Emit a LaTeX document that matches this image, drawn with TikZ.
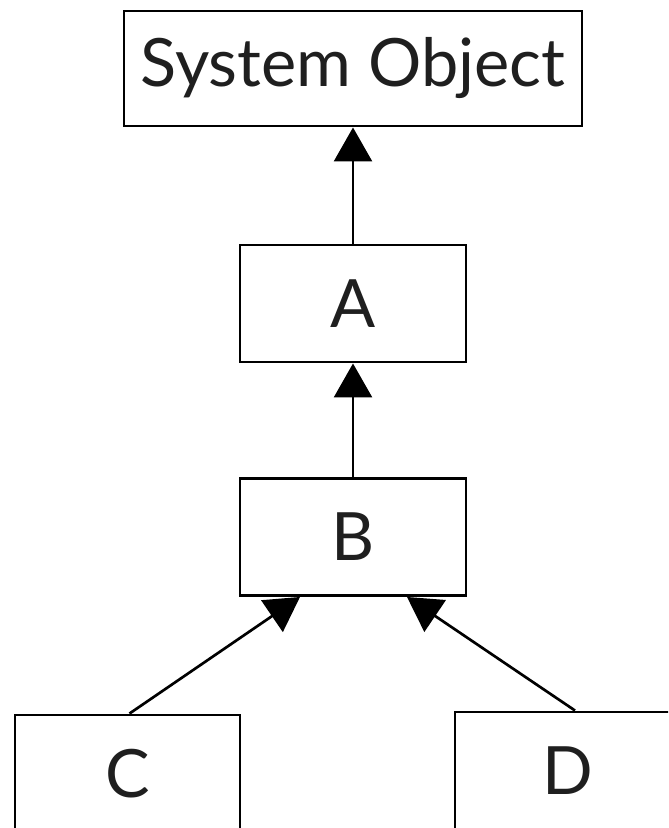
\documentclass[tikz,border=0pt]{standalone}
\usepackage{fontspec}
\setmainfont{Lato}
\usetikzlibrary{arrows.meta}
\begin{document}
\begin{tikzpicture}[x=0.75pt,y=-0.75pt,
  cls/.style={draw=black,line width=2.2pt,fill=white,inner sep=0pt,
    minimum width={226*0.75pt},minimum height={117*0.75pt},
    font=\fontsize{50}{60}\selectfont,text=black!88},
  inherit/.style={line width=2pt,-{Triangle[length=25.5pt,width=28.5pt]}}]
\useasboundingbox (0,0) rectangle (668,828);
\clip (0,0) rectangle (668,828);
% class boxes
\node[cls,minimum width={458*0.75pt},minimum height={115*0.75pt}] (sys) at (353,68.5) {System Object};
\node[cls] (A) at (353,303.5) {A};
\node[cls] (B) at (353,537) {B};
\node[cls,minimum width={225*0.75pt}] (C) at (127.5,773.5) {C};
\node[cls] (D) at (568,770.5) {D};
% inheritance arrows
\draw[inherit] (A.north) -- (sys.south);
\draw[inherit] (B.north) -- (A.south);
\draw[inherit] ([xshift={2*0.75pt}]C.north) -- ([xshift={-53*0.75pt}]B.south);
\draw[inherit] ([xshift={7*0.75pt}]D.north) -- ([xshift={54*0.75pt}]B.south);
\end{tikzpicture}
\end{document}
